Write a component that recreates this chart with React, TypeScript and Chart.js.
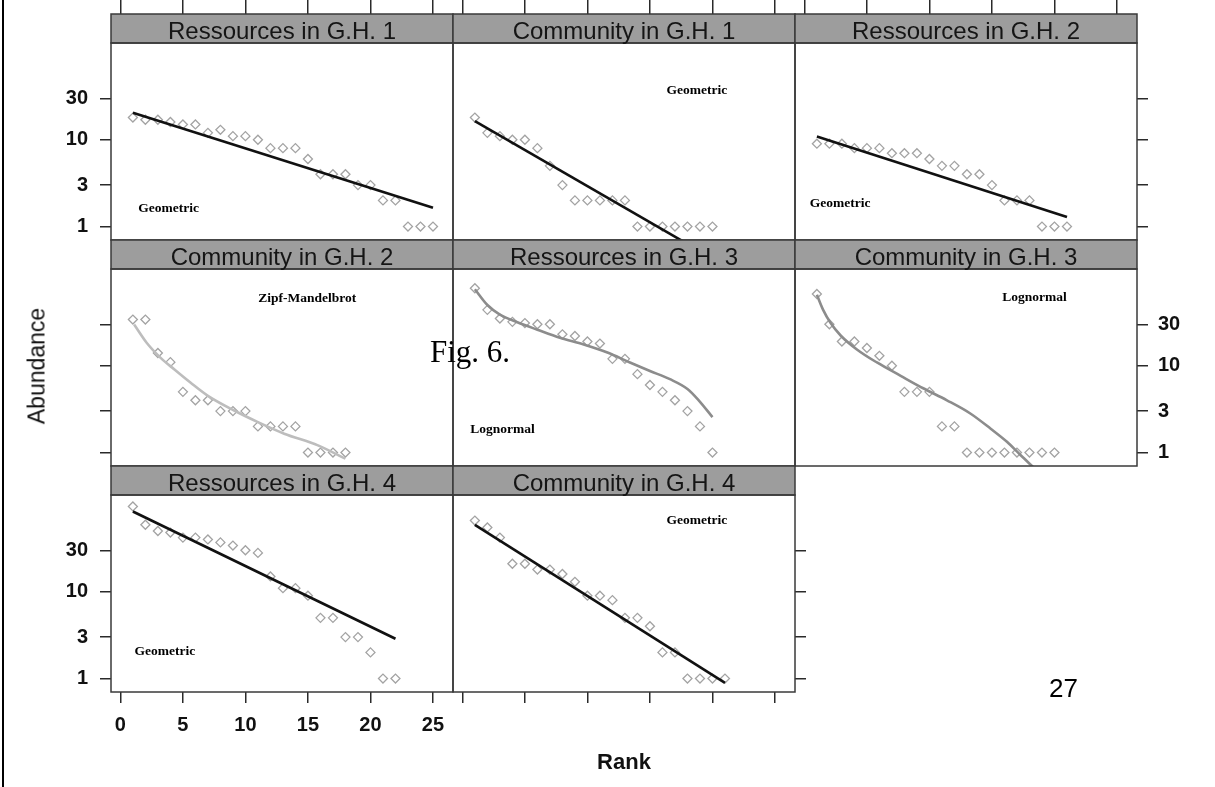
import React, { useEffect, useRef } from 'react';
import { Chart, registerables } from 'chart.js';

Chart.register(...registerables);

// ---------- data ----------
const X_TICKS = [0, 5, 10, 15, 20, 25];
const X_TICK_LABELS = ['0', '5', '10', '15', '20', '25'];
const Y_TICKS = [1, 3, 10, 30];
const Y_TICK_LABELS = ['1', '3', '10', '30'];

const panelTitles = [
  'Ressources in G.H. 1',
  'Community in G.H. 1',
  'Ressources in G.H. 2',
  'Community in G.H. 2',
  'Ressources in G.H. 3',
  'Community in G.H. 3',
  'Ressources in G.H. 4',
  'Community in G.H. 4',
];
const modelNames = ['Geometric', 'Geometric', 'Geometric', 'Zipf-Mandelbrot', 'Lognormal', 'Lognormal', 'Geometric', 'Geometric'];
// where the model name sits, in (rank, abundance)
const modelLabelRank = [3.85, 18.75, 2.85, 14.95, 3.2, 18.4, 3.55, 18.75];
const modelLabelAbund = [1.6, 37, 1.83, 60, 1.85, 61, 2.05, 66];

// observed abundances, rank = 1..n
const resGH1 = [18, 17, 17, 16, 15, 15, 12, 13, 11, 11, 10, 8, 8, 8, 6, 4, 4, 4, 3, 3, 2, 2, 1, 1, 1];
const comGH1 = [18, 12, 11, 10, 10, 8, 5, 3, 2, 2, 2, 2, 2, 1, 1, 1, 1, 1, 1, 1];
const resGH2 = [9, 9, 9, 8, 8, 8, 7, 7, 7, 6, 5, 5, 4, 4, 3, 2, 2, 2, 1, 1, 1];
const comGH2 = [34, 34, 14, 11, 5, 4, 4, 3, 3, 3, 2, 2, 2, 2, 1, 1, 1, 1];
const resGH3 = [78, 44, 35, 32, 31, 30, 30, 23, 22, 19, 18, 12, 12, 8, 6, 5, 4, 3, 2, 1];
const comGH3 = [67, 30, 19, 19, 16, 13, 10, 5, 5, 5, 2, 2, 1, 1, 1, 1, 1, 1, 1, 1];
const resGH4 = [96, 59, 50, 48, 42, 42, 40, 37, 34, 30, 28, 15, 11, 11, 9, 5, 5, 3, 3, 2, 1, 1];
const comGH4 = [66, 55, 42, 21, 21, 18, 18, 16, 13, 9, 9, 8, 5, 5, 4, 2, 2, 1, 1, 1, 1];

// fitted models
const fitResGH1Rank = [1, 25];
const fitResGH1 = [20.5, 1.65];
const fitComGH1Rank = [1, 20];
const fitComGH1 = [16.4, 0.43];
const fitResGH2Rank = [1, 21];
const fitResGH2 = [10.9, 1.29];
const fitComGH2Rank = [1.1, 2.1, 3.2, 4.3, 5.6, 7.0, 9.1, 11.0, 13.1, 15.8, 18.0];
const fitComGH2 = [29.8, 18.4, 12.4, 9.1, 6.4, 4.5, 3.05, 2.24, 1.65, 1.21, 0.85];
const fitResGH3Rank = [1.0, 2.0, 3.0, 4.4, 6.0, 7.8, 9.7, 11.6, 13.4, 15.0, 16.6, 18.0, 18.9, 20.0];
const fitResGH3 = [76, 50, 38.8, 31.7, 26, 21, 17.6, 14.2, 10.9, 8.7, 7.0, 5.4, 4.0, 2.56];
const fitComGH3Rank = [1.0, 1.5, 2.1, 2.9, 4.2, 5.8, 7.7, 9.5, 11.4, 13.3, 14.9, 16.2, 17.3, 18.3];
const fitComGH3 = [65.6, 44, 31, 22.3, 15.4, 10.9, 7.65, 5.5, 4.0, 2.8, 1.88, 1.33, 0.93, 0.68];
const fitResGH4Rank = [1, 22];
const fitResGH4 = [84, 2.87];
const fitComGH4Rank = [1, 21];
const fitComGH4 = [59, 0.89];

const observed = [resGH1, comGH1, resGH2, comGH2, resGH3, comGH3, resGH4, comGH4];
const fitRanks = [fitResGH1Rank, fitComGH1Rank, fitResGH2Rank, fitComGH2Rank, fitResGH3Rank, fitComGH3Rank, fitResGH4Rank, fitComGH4Rank];
const fitValues = [fitResGH1, fitComGH1, fitResGH2, fitComGH2, fitResGH3, fitComGH3, fitResGH4, fitComGH4];

// ---------- layout / style ----------
const W = 1215;
const H = 787;
const COL_X = [111, 453, 795];
const ROW_Y = [14, 240, 466];
const STRIP_H = 29;
const PANEL_W = 342;
const PLOT_H = 197;
const X_MIN = -0.75;
const X_MAX = 26.6;
const Y_MIN = 0.73;
const Y_MAX = 130;
const TICK_LEN = 11;

type Side = 'none' | 'ticks' | 'labels';
interface PanelLayout {
  row: number;
  col: number;
  xPos: 'top' | 'bottom';
  xSide: Side;
  yPos: 'left' | 'right';
  ySide: Side;
  curved: boolean;
  lineColor: string;
}
const LAYOUT: PanelLayout[] = [
  { row: 0, col: 0, xPos: 'top', xSide: 'ticks', yPos: 'left', ySide: 'labels', curved: false, lineColor: '#111111' },
  { row: 0, col: 1, xPos: 'top', xSide: 'ticks', yPos: 'left', ySide: 'none', curved: false, lineColor: '#111111' },
  { row: 0, col: 2, xPos: 'top', xSide: 'ticks', yPos: 'right', ySide: 'ticks', curved: false, lineColor: '#111111' },
  { row: 1, col: 0, xPos: 'bottom', xSide: 'none', yPos: 'left', ySide: 'ticks', curved: true, lineColor: '#bdbdbd' },
  { row: 1, col: 1, xPos: 'bottom', xSide: 'none', yPos: 'left', ySide: 'none', curved: true, lineColor: '#8c8c8c' },
  { row: 1, col: 2, xPos: 'bottom', xSide: 'none', yPos: 'right', ySide: 'labels', curved: true, lineColor: '#8c8c8c' },
  { row: 2, col: 0, xPos: 'bottom', xSide: 'labels', yPos: 'left', ySide: 'labels', curved: false, lineColor: '#111111' },
  { row: 2, col: 1, xPos: 'bottom', xSide: 'ticks', yPos: 'right', ySide: 'ticks', curved: false, lineColor: '#111111' },
];

const tickFont = { family: '"Liberation Sans", Arial, sans-serif', size: 20, weight: 'bold' as const };

const latticePlugin = {
  id: 'lattice',
  afterDraw(chart: any, _args: any, opts: any) {
    const { ctx, chartArea: a } = chart;
    ctx.save();
    // strip
    ctx.fillStyle = '#9d9d9d';
    ctx.fillRect(a.left, a.top - STRIP_H, a.right - a.left, STRIP_H);
    ctx.strokeStyle = '#3a3a3a';
    ctx.lineWidth = 1.5;
    ctx.strokeRect(a.left, a.top - STRIP_H, a.right - a.left, STRIP_H);
    ctx.strokeRect(a.left, a.top, a.right - a.left, a.bottom - a.top);
    ctx.fillStyle = '#151515';
    ctx.font = '24px "Liberation Sans", Arial, sans-serif';
    ctx.textAlign = 'center';
    ctx.textBaseline = 'alphabetic';
    ctx.fillText(opts.title, (a.left + a.right) / 2, a.top - STRIP_H + 25);
    // model name
    const px = chart.scales.x.getPixelForValue(opts.labelX);
    const py = chart.scales.y.getPixelForValue(opts.labelY);
    ctx.font = 'bold 13.5px "Liberation Serif", "Times New Roman", serif';
    ctx.textBaseline = 'middle';
    ctx.fillStyle = '#000';
    ctx.fillText(opts.model, px, py);
    ctx.restore();
  },
};

function makeConfig(i: number): any {
  const L = LAYOUT[i];
  const left = COL_X[L.col];
  const right = left + PANEL_W;
  const top = ROW_Y[L.row] + STRIP_H;
  const bottom = top + PLOT_H;

  const xShown = L.xSide !== 'none';
  const yShown = L.ySide !== 'none';
  const xH = !xShown ? 0 : L.xPos === 'top' ? top : L.xSide === 'labels' ? 60 : TICK_LEN;
  const yW = !yShown ? 0 : L.ySide === 'labels' ? 70 : TICK_LEN;
  const xTickLen = L.xPos === 'top' ? top : TICK_LEN;

  const padding = {
    left: left - (L.yPos === 'left' ? yW : 0),
    right: W - right - (L.yPos === 'right' ? yW : 0),
    top: top - (L.xPos === 'top' ? xH : 0),
    bottom: H - bottom - (L.xPos === 'bottom' ? xH : 0),
  };

  const obs = observed[i].map((v, k) => ({ x: k + 1, y: v }));
  const fit = fitRanks[i].map((r, k) => ({ x: r, y: fitValues[i][k] }));

  return {
    type: 'scatter',
    data: {
      datasets: [
        {
          data: fit,
          showLine: true,
          pointRadius: 0,
          borderColor: L.lineColor,
          borderWidth: 2.6,
          tension: L.curved ? 0.4 : 0,
          cubicInterpolationMode: L.curved ? 'monotone' : 'default',
          fill: false,
        },
        {
          data: obs,
          showLine: false,
          pointStyle: 'rectRot',
          pointRadius: 4.5,
          pointBorderWidth: 1.3,
          pointBorderColor: '#a3a3a3',
          pointBackgroundColor: 'rgba(0,0,0,0)',
        },
      ],
    },
    options: {
      responsive: false,
      animation: false,
      devicePixelRatio: 1,
      layout: { padding },
      events: [],
      plugins: {
        legend: { display: false },
        tooltip: { enabled: false },
        title: { display: false },
        lattice: {
          title: panelTitles[i],
          model: modelNames[i],
          labelX: modelLabelRank[i],
          labelY: modelLabelAbund[i],
        },
      },
      scales: {
        x: {
          type: 'linear',
          position: L.xPos,
          display: xShown,
          min: X_MIN,
          max: X_MAX,
          afterBuildTicks: (s: any) => {
            s.ticks = X_TICKS.map((v) => ({ value: v }));
          },
          afterFit: (s: any) => {
            if (xShown) s.height = xH;
          },
          grid: {
            display: true,
            drawOnChartArea: false,
            drawTicks: true,
            tickLength: xTickLen,
            color: '#2a2a2a',
            lineWidth: 1.5,
          },
          border: { display: false },
          ticks: {
            display: L.xSide === 'labels',
            font: tickFont,
            color: '#111',
            padding: 10,
            maxRotation: 0,
            autoSkip: false,
            callback: (v: number) => X_TICK_LABELS[X_TICKS.indexOf(v)] ?? '',
          },
        },
        y: {
          type: 'logarithmic',
          position: L.yPos,
          display: yShown,
          min: Y_MIN,
          max: Y_MAX,
          afterBuildTicks: (s: any) => {
            s.ticks = Y_TICKS.map((v) => ({ value: v }));
          },
          afterFit: (s: any) => {
            if (yShown) s.width = yW;
          },
          grid: {
            display: true,
            drawOnChartArea: false,
            drawTicks: true,
            tickLength: TICK_LEN,
            color: '#2a2a2a',
            lineWidth: 1.5,
          },
          border: { display: false },
          ticks: {
            display: L.ySide === 'labels',
            font: tickFont,
            color: '#111',
            padding: L.yPos === 'left' ? 12 : 10,
            autoSkip: false,
            callback: (v: number) => Y_TICK_LABELS[Y_TICKS.indexOf(v)] ?? '',
          },
        },
      },
    },
    plugins: [latticePlugin],
  };
}

export default function App() {
  const refs = useRef<(HTMLCanvasElement | null)[]>([]);

  useEffect(() => {
    const charts = LAYOUT.map((_, i) => new Chart(refs.current[i] as HTMLCanvasElement, makeConfig(i)));
    return () => charts.forEach((c) => c.destroy());
  }, []);

  const sans = '"Liberation Sans", Arial, sans-serif';
  const serif = '"Liberation Serif", "Times New Roman", serif';

  return (
    <div style={{ position: 'absolute', left: 0, top: 0, width: W, height: H, overflow: 'hidden', background: '#fff' }}>
      {LAYOUT.map((_, i) => (
        <canvas
          key={i}
          ref={(el) => {
            refs.current[i] = el;
          }}
          width={W}
          height={H}
          style={{ position: 'absolute', left: 0, top: 0, width: W, height: H }}
        />
      ))}
      <div style={{ position: 'absolute', left: 2, top: 0, width: 2, height: H, background: '#000' }} />
      <div
        style={{
          position: 'absolute',
          left: 37,
          top: 366,
          transform: 'translate(-50%, -50%) rotate(-90deg)',
          fontFamily: sans,
          fontSize: 23,
          lineHeight: '23px',
          whiteSpace: 'nowrap',
          color: '#111',
        }}
      >
        Abundance
      </div>
      <div
        style={{
          position: 'absolute',
          left: 624,
          top: 751,
          transform: 'translateX(-50%)',
          fontFamily: sans,
          fontWeight: 'bold',
          fontSize: 22,
          lineHeight: '22px',
          whiteSpace: 'nowrap',
          color: '#111',
        }}
      >
        Rank
      </div>
      <div
        style={{
          position: 'absolute',
          left: 430,
          top: 336,
          fontFamily: serif,
          fontSize: 31,
          lineHeight: '31px',
          whiteSpace: 'nowrap',
          color: '#000',
        }}
      >
        Fig. 6.
      </div>
      <div
        style={{
          position: 'absolute',
          left: 1049,
          top: 675,
          fontFamily: sans,
          fontSize: 26,
          lineHeight: '26px',
          whiteSpace: 'nowrap',
          color: '#000',
        }}
      >
        27
      </div>
    </div>
  );
}
